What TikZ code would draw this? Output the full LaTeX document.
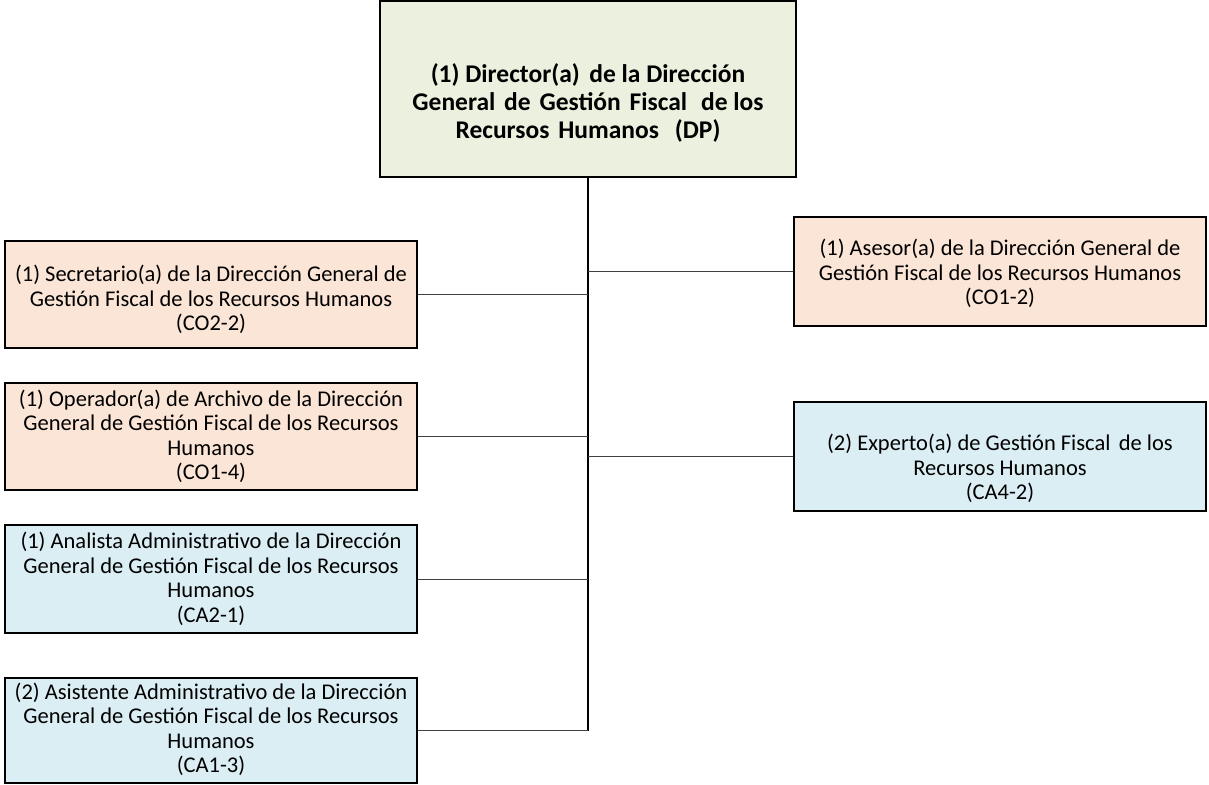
\documentclass[tikz,border=0pt]{standalone}
\usepackage{fontspec}
\setmainfont{Carlito}
\definecolor{dirgreen}{HTML}{EBF1DE}
\definecolor{cargopeach}{HTML}{FBE5D6}
\definecolor{cargoblue}{HTML}{DBEEF4}
\definecolor{linkgray}{HTML}{404040}
\tikzset{
  cargo/.style={draw=black, line width=1.4pt, minimum width=412pt},
  peach/.style={cargo, fill=cargopeach},
  blue/.style={cargo, fill=cargoblue},
  cargotext/.style={align=center, inner sep=0pt, font=\fontsize{22.5}{24.5}\selectfont},
  link/.style={draw=linkgray, line width=1pt}
}
\newcommand{\wsp}{\hspace{0.12em} }
\begin{document}
\begin{tikzpicture}[x=1pt,y=-1pt]
\useasboundingbox (0,0) rectangle (1209,784);
% director
\node[draw=black, line width=1.8pt, fill=dirgreen, minimum width=416pt, minimum height=176pt] (dir) at (588,89) {};
\node[align=center, inner sep=0pt, font=\bfseries\fontsize{25.5}{28}\selectfont] (dir-t) at ([yshift=-14pt]dir.center)
  {(1) Director(a)\hspace{0.15em} de la Dirección\\General\wsp de\wsp Gestión\wsp Fiscal\hspace{0.2em}\wsp de los\\Recursos\wsp Humanos\hspace{0.4em} (DP)};
% left column
\node[peach, minimum height=107pt] (sec) at (211,294.5) {};
\node[cargotext] (sec-t) at ([yshift=-5pt]sec.center)
  {(1) Secretario(a) de la Dirección General de\\Gestión Fiscal de los Recursos Humanos\\(CO2-2)};
\node[peach, minimum height=107pt] (ope) at (211,436.5) {};
\node[cargotext] (ope-t) at (ope.center)
  {(1) Operador(a) de Archivo de la Dirección\\General de Gestión Fiscal de los Recursos\\Humanos\\(CO1-4)};
\node[blue, minimum height=108pt] (ana) at (211,579) {};
\node[cargotext] (ana-t) at (ana.center)
  {(1) Analista Administrativo de la Dirección\\General de Gestión Fiscal de los Recursos\\Humanos\\(CA2-1)};
\node[blue, minimum height=105pt] (asi) at (211,730.5) {};
\node[cargotext] (asi-t) at ([yshift=1pt]asi.center)
  {(2) Asistente Administrativo de la Dirección\\General de Gestión Fiscal de los Recursos\\Humanos\\(CA1-3)};
% right column
\node[peach, minimum height=109pt] (ase) at (1000,271.5) {};
\node[cargotext] (ase-t) at ([yshift=-2pt]ase.center)
  {(1) Asesor(a) de la Dirección General de\\Gestión Fiscal de los Recursos Humanos\\(CO1-2)};
\node[blue, minimum height=109pt] (exp) at (1000,456.5) {};
\node[cargotext] (exp-t) at ([yshift=-12pt]exp.center)
  {(2) Experto(a) de Gestión Fiscal\hspace{0.15em} de los\\Recursos Humanos\\(CA4-2)};
% lines
\draw[line width=1.4pt] (dir.south) -- (asi.east -| dir.south);
\foreach \n in {sec,ope,ana,asi} {
  \draw[link] (\n.east) -- (\n.east -| dir.south);
}
\foreach \n in {ase,exp} {
  \draw[link] (\n.west) -- (\n.west -| dir.south);
}
\end{tikzpicture}
\end{document}
